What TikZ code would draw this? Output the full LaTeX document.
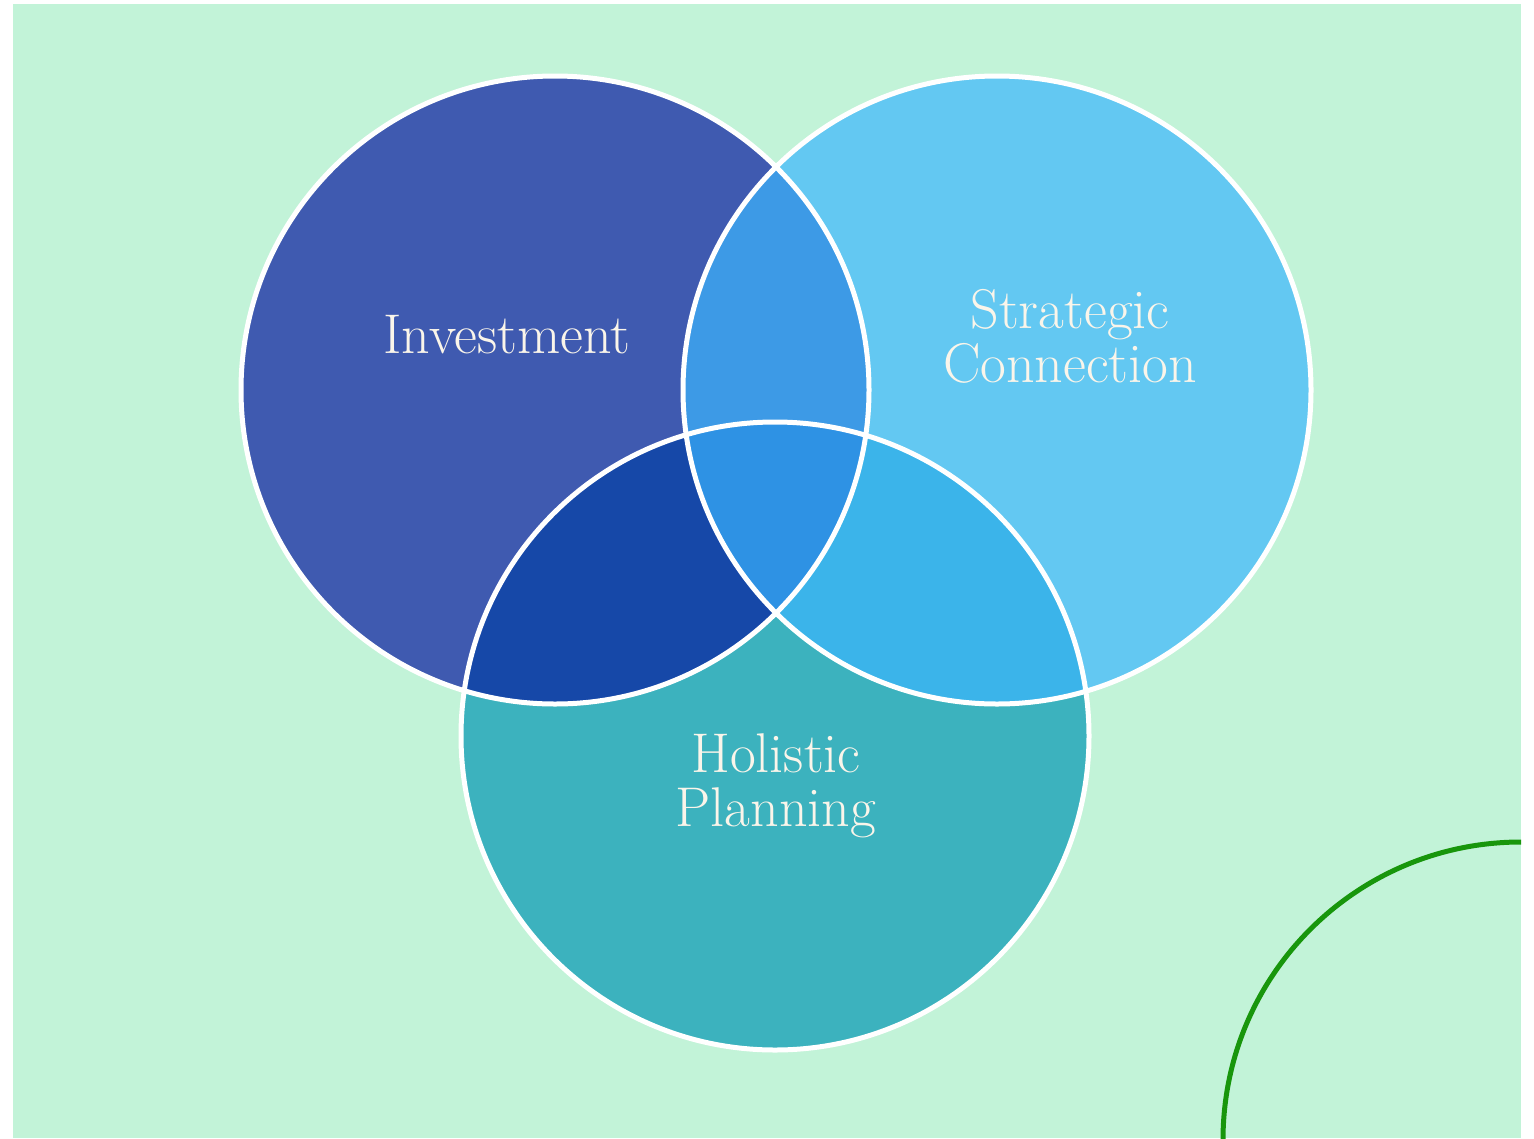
\documentclass[tikz,border=0pt]{standalone}
\definecolor{bgmint}{HTML}{C2F3D8}
\definecolor{cinv}{HTML}{3F5AB0}
\definecolor{cstr}{HTML}{63C8F2}
\definecolor{chol}{HTML}{3CB2BE}
\definecolor{cis}{HTML}{3D9AE6}
\definecolor{cih}{HTML}{1648A8}
\definecolor{csh}{HTML}{3BB4EA}
\definecolor{cmid}{HTML}{2E92E4}
\definecolor{carc}{HTML}{18960C}
\definecolor{ctext}{HTML}{FAF5EA}
\begin{document}
\begin{tikzpicture}[x=1pt,y=-1pt,
  lbl/.style={text=ctext,font=\fontsize{56}{54}\selectfont,align=center,inner sep=0pt},
  ring/.style={draw=white,line width=5pt}]
\useasboundingbox (0,0) rectangle (1534,1138);
\fill[white] (0,0) rectangle (1534,1138);
\fill[bgmint] (13,4) rectangle (1521,1138);
\coordinate (I) at (555,390);
\coordinate (S) at (997,390);
\coordinate (H) at (775,736);
% green arc
\begin{scope}
\clip (13,4) rectangle (1521,1138);
\draw[carc,line width=5pt] (1521,1140) circle[radius=298pt];
\end{scope}
% base fills
\fill[cinv] (I) circle[radius=314pt];
\fill[cstr] (S) circle[radius=314pt];
\fill[chol] (H) circle[radius=314pt];
% pair intersections
\begin{scope}
\clip (I) circle[radius=314pt];
\fill[cis] (S) circle[radius=314pt];
\fill[cih] (H) circle[radius=314pt];
\end{scope}
\begin{scope}
\clip (S) circle[radius=314pt];
\fill[csh] (H) circle[radius=314pt];
\end{scope}
\begin{scope}
\clip (I) circle[radius=314pt];
\clip (S) circle[radius=314pt];
\fill[cmid] (H) circle[radius=314pt];
\end{scope}
% white outlines
\draw[ring] (I) circle[radius=314pt];
\draw[ring] (S) circle[radius=314pt];
\draw[ring] (H) circle[radius=314pt];
% labels (anchor=base is the baseline of the last line)
\node[lbl,anchor=base] (tinv) at (507,353) {Investment};
\node[lbl,anchor=base] (tstr) at (1070,382) {Strategic\\Connection};
\node[lbl,anchor=base] (thol) at (776,826) {Holistic\\Planning};
\end{tikzpicture}
\end{document}
